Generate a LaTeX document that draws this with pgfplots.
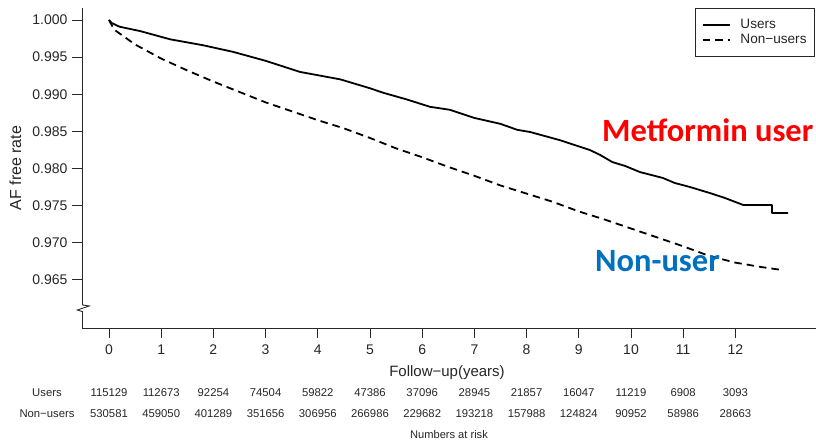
\documentclass[border=0pt]{standalone}
\usepackage{pgfplots}
\pgfplotsset{compat=1.18}
\usepackage{fontspec}
\setmainfont{Liberation Sans}
\newfontfamily\calib{Carlito}
\definecolor{nonblue}{RGB}{0,112,192}
\definecolor{axgray}{RGB}{40,40,40}

\pgfplotstableread{
t v
0 1.0
0.05 0.9996
0.2 0.9991
0.6 0.9985
1.17 0.9974
1.8 0.9966
2.38 0.9957
3.0 0.9945
3.66 0.9930
4.43 0.9920
5.0 0.9908
5.25 0.9902
5.7 0.9893
6.15 0.9883
6.53 0.9879
7.0 0.9868
7.5 0.9860
7.82 0.9852
8.07 0.9849
8.64 0.9838
9.21 0.98248
9.41 0.98181
9.64 0.98086
9.89 0.98032
10.17 0.97951
10.61 0.97871
10.84 0.97803
11.13 0.97749
11.51 0.97668
11.80 0.97601
12.15 0.97507
12.70 0.97507
12.70 0.97399
13.01 0.97399
}\users

\pgfplotstableread{
t v
0 1.0
0.1 0.9987
0.5 0.9967
1.0 0.9948
1.5 0.9932
2.0 0.9917
2.5 0.9903
3.0 0.9889
3.5 0.9877
4.0 0.9865
4.5 0.9854
5.0 0.9841
5.5 0.9827
6.0 0.9815
6.5 0.9802
7.0 0.9790
7.5 0.9777
8.0 0.9766
8.5 0.9755
9.0 0.9742
9.5 0.9731
10.0 0.9719
10.5 0.9707
11.0 0.9695
11.5 0.9682
12.0 0.9673
12.5 0.9667
12.9 0.9663
}\nonusers

\begin{document}
\begin{tikzpicture}[x=1pt,y=1pt]
\useasboundingbox (0,0) rectangle (816,441);
\begin{axis}[
  at={(82pt,113pt)}, anchor=south west,
  scale only axis, width=734pt, height=320pt,
  xmin=-0.517, xmax=13.544,
  ymin=0.958491, ymax=1.001617,
  axis x line=bottom, axis y line=left,
  x axis line style={-, draw=axgray, line width=0.9pt},
  y axis line style={-, draw=axgray, line width=0.9pt},
  xtick={0,1,...,12},
  ytick={0.965,0.970,0.975,0.980,0.985,0.990,0.995,1.000},
  tick align=outside, major tick length=10pt,
  tick style={draw=axgray, line width=0.9pt},
  /pgf/number format/assume math mode=true,
  every tick label/.append style={font=\fontsize{14}{16}\selectfont, text=black!85},
  xticklabel style={yshift=-3pt},
  yticklabel style={xshift=-1pt, /pgf/number format/.cd, fixed, fixed zerofill, precision=3},
  clip=false,
  legend style={at={(rel axis cs:0.9986,1)}, anchor=north east,
    draw=axgray, line width=0.8pt, font=\fontsize{13.6}{16}\selectfont, text=black!85,
    inner xsep=6pt, inner ysep=9pt, row sep=0pt, column sep=8pt},
  legend cell align=left,
  legend image code/.code={\draw[#1] (0pt,0pt) -- (27pt,0pt);},
]
\addplot[black, line width=1.8pt, line join=round] table[x=t,y=v] {\users};
\addlegendentry{Users}
\addplot[black, line width=1.8pt, dash pattern=on 7.5pt off 5pt] table[x=t,y=v] {\nonusers};
\addlegendentry{Non\textminus users}
\end{axis}
% y label
\node[rotate=90, text=black!85, font=\fontsize{16}{18}\selectfont] at (15.5,273) {AF free rate};
% axis break
\draw[white, line width=2pt] (82.5,128.8) -- (82.5,136.5);
\draw[axgray, line width=0.9pt] (82.5,137) -- (82.7,136) -- (89.3,135) -- (77.3,131) -- (82.7,129.3) -- (82.5,128.5);
% annotations
\node[anchor=base west, inner sep=0pt, text=red] at (602,299) {\calib\bfseries\fontsize{32.5}{36}\selectfont Metformin user};
\node[anchor=base west, inner sep=0pt, text=nonblue] at (595,169.3) {\calib\bfseries\fontsize{32.5}{36}\selectfont Non-user};
% x label
\node[text=black!85, font=\fontsize{15}{17}\selectfont] at (447,68) {Follow\textminus up(years)};
% numbers at risk
\node[text=black!85, font=\fontsize{11.3}{13}\selectfont] at (47,48) {Users};
\node[text=black!85, font=\fontsize{11.3}{13}\selectfont] at (47,27) {Non\textminus users};
\foreach \i/\u/\n in {0/115129/530581,1/112673/459050,2/92254/401289,3/74504/351656,4/59822/306956,5/47386/266986,6/37096/229682,7/28945/193218,8/21857/157988,9/16047/124824,10/11219/90952,11/6908/58986,12/3093/28663}{
  \node[text=black!85, font=\fontsize{11.3}{13}\selectfont] at ({109+52.2*\i},48) {\u};
  \node[text=black!85, font=\fontsize{11.3}{13}\selectfont] at ({109+52.2*\i},27) {\n};
}
\node[text=black!85, font=\fontsize{11.1}{13}\selectfont] at (449,6) {Numbers at risk};
\end{tikzpicture}
\end{document}
